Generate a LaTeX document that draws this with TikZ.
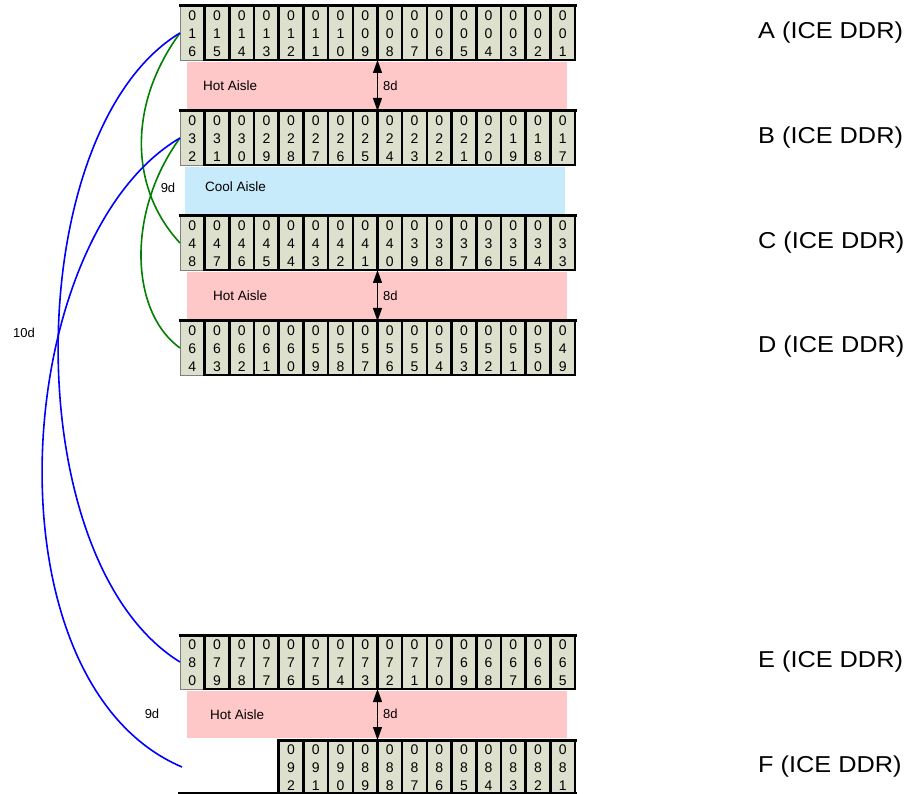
\documentclass[tikz,border=0pt]{standalone}
\usepackage{fontspec}
\setmainfont{Liberation Sans}
\usetikzlibrary{arrows.meta}
\definecolor{cellfill}{RGB}{221,224,204}
\definecolor{hotpink}{RGB}{255,200,200}
\definecolor{coolblue}{RGB}{200,235,251}
\definecolor{bluecable}{RGB}{0,0,255}
\definecolor{greencable}{RGB}{0,128,0}
\begin{document}
\begin{tikzpicture}[x=1pt,y=-1pt,
  cell/.style={draw=\cellcol,line width=\cellw,fill=cellfill,rectangle,
    minimum width=24.69pt,minimum height=54pt,inner sep=0pt,outer sep=0pt,anchor=north west},
  digit/.style={inner sep=0pt,anchor=center,font=\fontsize{14}{16}\selectfont},
  topline/.style={line width=3pt},
  aisletext/.style={anchor=west,inner sep=0pt,font=\fontsize{13.5}{16}\selectfont},
  dimtext/.style={anchor=west,inner sep=0pt,font=\fontsize{13}{16}\selectfont},
  dimarrow/.style={line width=1.2pt,{Triangle[length=13pt,width=9pt]}-{Triangle[length=13pt,width=9pt]}},
  rowlabel/.style={anchor=west,inner sep=0pt,font=\fontsize{23}{26}\selectfont},
  bluecab/.style={draw=bluecable,line width=1.6pt},
  greencab/.style={draw=greencable,line width=1.6pt}]
\useasboundingbox (0,0) rectangle (908,794);
\fill[white] (0,0) rectangle (908,794);
% aisles
\fill[hotpink] (187,62) rectangle (567,110);
\fill[coolblue] (185,167) rectangle (565,215);
\fill[hotpink] (187,272) rectangle (567,320);
\fill[hotpink] (187,691) rectangle (567,738);
% rows of cabinets
\foreach \row/\y/\base in {A/6/16,B/111/32,C/216/48,D/321/64,E/635/80} {
  \foreach \i in {1,...,16} {
    \pgfmathtruncatemacro\numv{\base-\i+1}
    \pgfmathtruncatemacro\digT{int(\numv/10)}
    \pgfmathtruncatemacro\digU{mod(\numv,10)}
    \pgfmathsetmacro\xpos{180+(\i-1)*24.6875}
    \ifnum\i=1 \def\cellcol{gray}\def\cellw{0.7pt}\else\def\cellcol{black}\def\cellw{2.6pt}\fi
    \node[cell] (\row\i) at (\xpos,\y) {};
    \path (\row\i.north) ++(0,9.5) node[digit] {0} ++(0,18) node[digit] {\digT} ++(0,18) node[digit] {\digU};
  }
  \draw[topline] (179,\y) -- (576.5,\y);
}
\foreach \i in {5,...,16} {
  \pgfmathtruncatemacro\numv{97-\i}
  \pgfmathtruncatemacro\digT{int(\numv/10)}
  \pgfmathtruncatemacro\digU{mod(\numv,10)}
  \pgfmathsetmacro\xpos{180+(\i-1)*24.6875}
  \def\cellcol{black}\def\cellw{2.6pt}
  \node[cell] (F\i) at (\xpos,740) {};
  \path (F\i.north) ++(0,9.5) node[digit] {0} ++(0,18) node[digit] {\digT} ++(0,18) node[digit] {\digU};
}
\draw[topline] (277.5,740) -- (576.5,740);
\draw[line width=3pt] (178,793) -- (576.5,793);
% aisle labels
\node[aisletext] (hot1) at (203,86) {Hot Aisle};
\node[aisletext] (cool1) at (205,187) {Cool Aisle};
\node[aisletext] (hot2) at (213,296) {Hot Aisle};
\node[aisletext] (hot3) at (210,715) {Hot Aisle};
% dimension arrows
\draw[dimarrow] (A8.south east) -- (B8.north east);
\draw[dimarrow] (C8.south east) -- (D8.north east);
\draw[dimarrow] (E8.south east) -- (F8.north east);
\node[dimtext] (d1) at (383,86) {8d};
\node[dimtext] (d2) at (383,296) {8d};
\node[dimtext] (d3) at (383,714) {8d};
% cables
\coordinate (fend) at (182,767);
\draw[greencab] (A1.west) .. controls (128,104) and (129,188) .. (C1.west);
\draw[greencab] (B1.west) .. controls (126,212) and (130,312) .. (D1.west);
\draw[bluecab] (A1.west) .. controls (20,130) and (15,560) .. (E1.west);
\draw[bluecab] (B1.west) .. controls (10,238) and (-18,682) .. (fend);
\node[dimtext,anchor=center] (l9a) at (168,188) {9d};
\node[dimtext,anchor=center] (l10) at (24,333) {10d};
\node[dimtext,anchor=center] (l9b) at (152,714) {9d};
% row labels
\node[rowlabel] (la) at (758,33) {\scalebox{1.1}[1]{A (ICE DDR)}};
\node[rowlabel] (lb) at (758,138) {\scalebox{1.1}[1]{B (ICE DDR)}};
\node[rowlabel] (lc) at (758,243) {\scalebox{1.1}[1]{C (ICE DDR)}};
\node[rowlabel] (ld) at (758,347) {\scalebox{1.1}[1]{D (ICE DDR)}};
\node[rowlabel] (le) at (758,662) {\scalebox{1.1}[1]{E (ICE DDR)}};
\node[rowlabel] (lf) at (758,767) {\scalebox{1.1}[1]{F (ICE DDR)}};
\end{tikzpicture}
\end{document}
